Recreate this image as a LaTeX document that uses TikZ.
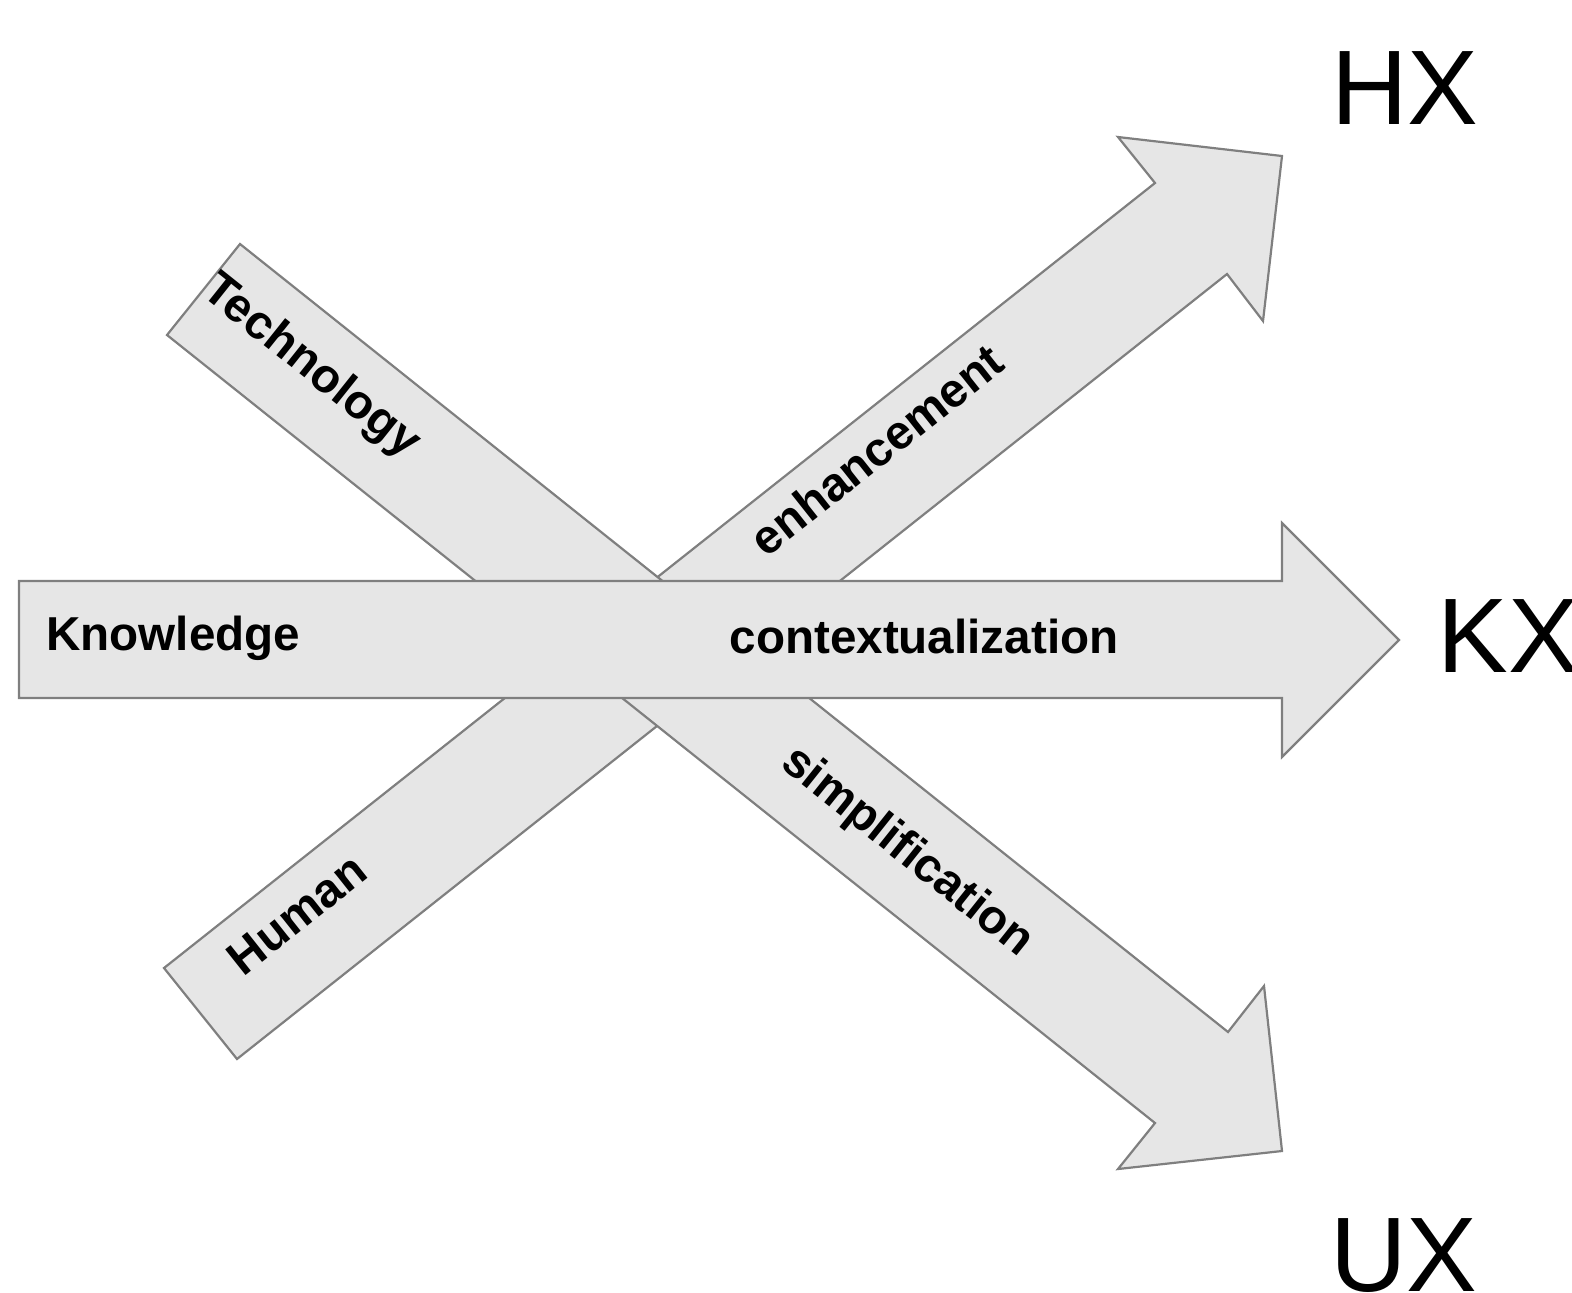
\documentclass[tikz,border=0pt]{standalone}
\usepackage{fontspec}
\setmainfont{Liberation Sans}
\begin{document}
\begin{tikzpicture}[x=0.5pt,y=-0.5pt,
  bigarrow/.style={fill=arrowfill,draw=arrowline,line width=1.1pt,line join=miter},
  lbl/.style={font=\fontsize{23.8pt}{28pt}\selectfont\bfseries,inner sep=0pt,anchor=base},
  big/.style={font=\fontsize{53pt}{60pt}\selectfont,inner sep=0pt,anchor=base west}]
\definecolor{arrowfill}{HTML}{E6E6E6}
\definecolor{arrowline}{HTML}{7F7F7F}
\useasboundingbox (0,0) rectangle (1572,1292);
% Human -> HX arrow
\draw[bigarrow] (164,968) -- (1155,183) -- (1118,137) -- (1282,156) -- (1263,321) -- (1227,274) -- (237,1059) -- cycle;
% Technology -> UX arrow
\draw[bigarrow] (240,244) -- (1228,1032) -- (1264,986) -- (1282,1151) -- (1118,1169) -- (1155,1123) -- (167,335) -- cycle;
% Knowledge -> KX arrow
\draw[bigarrow] (19,581) -- (1282,581) -- (1282,523) -- (1399,640) -- (1282,757) -- (1282,698) -- (19,698) -- cycle;
% labels
\node[lbl,anchor=base west] (knowledge) at (46,650) {Knowledge};
\node[lbl] (context) at (924,653) {contextualization};
\node[lbl,rotate=38.4] (human) at (307,927) {Human};
\node[lbl,rotate=38.4] (enh) at (887,463) {enhancement};
\node[lbl,rotate=-38.6] (tech) at (303,377) {Technology};
\node[lbl,rotate=-38.6] (simp) at (899,862) {simplification};
\node[big] (hx) at (1331,124) {HX};
\node[big] (kx) at (1437,672) {KX};
\node[big] (ux) at (1330,1291) {UX};
\end{tikzpicture}
\end{document}
